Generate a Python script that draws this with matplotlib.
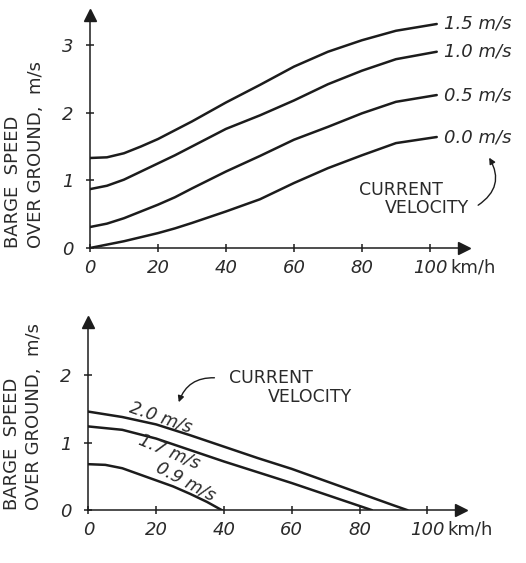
import numpy as np
import matplotlib
matplotlib.use("Agg")
import matplotlib.pyplot as plt

# following wind (top panel), km/h vs barge speed m/s
follow_x = [0, 5, 10, 15, 20, 25, 30, 40, 50, 60, 70, 80, 90, 102]
follow_curves = {
    "1.5 m/s": [1.33, 1.34, 1.40, 1.50, 1.61, 1.74, 1.87, 2.15, 2.41, 2.68, 2.90, 3.07, 3.21, 3.31],
    "1.0 m/s": [0.87, 0.92, 1.01, 1.13, 1.25, 1.37, 1.50, 1.76, 1.96, 2.18, 2.42, 2.62, 2.79, 2.90],
    "0.5 m/s": [0.31, 0.36, 0.44, 0.54, 0.64, 0.75, 0.88, 1.13, 1.36, 1.60, 1.79, 1.99, 2.16, 2.26],
    "0.0 m/s": [0.00, 0.05, 0.10, 0.16, 0.22, 0.29, 0.37, 0.54, 0.72, 0.96, 1.18, 1.37, 1.55, 1.64],
}

# head wind (bottom panel)
head_x_20 = [0, 10, 20, 30, 40, 50, 60, 70, 80, 90, 94]
head_y_20 = [1.46, 1.38, 1.27, 1.11, 0.94, 0.77, 0.61, 0.43, 0.25, 0.07, 0.0]
head_x_17 = [0, 10, 20, 30, 40, 50, 60, 70, 80, 83.5]
head_y_17 = [1.24, 1.19, 1.06, 0.89, 0.72, 0.56, 0.40, 0.23, 0.06, 0.0]
head_x_09 = [0, 5, 10, 15, 20, 25, 30, 35, 39.3]
head_y_09 = [0.68, 0.67, 0.62, 0.53, 0.44, 0.35, 0.24, 0.12, 0.0]

x_ticks = [0, 20, 40, 60, 80, 100]
ink = "#1c1c1c"
txt = "#2a2a2a"


def setup_axes(ax, ymax, yticks, unit_y):
    ax.set_xlim(0, 110)
    ax.set_ylim(0, ymax)
    for s in ["top", "right"]:
        ax.spines[s].set_visible(False)
    for s in ["left", "bottom"]:
        ax.spines[s].set_color(ink)
        ax.spines[s].set_linewidth(1.1)
    ax.set_xticks(x_ticks)
    ax.set_xticklabels([str(t) for t in x_ticks], fontsize=13, style="italic", color=txt)
    ax.set_yticks(yticks)
    ax.set_yticklabels([str(t) for t in yticks], fontsize=13, style="italic", color=txt)
    ax.tick_params(direction="inout", length=6, width=1.1, color=ink, pad=5)
    ax.tick_params(axis="y", pad=9)
    # arrow heads on axes
    ax.plot(1, 0, ">", color=ink, markersize=9, transform=ax.transAxes, clip_on=False)
    ax.plot(0, 1, "^", color=ink, markersize=9, transform=ax.transAxes, clip_on=False)
    ax.text(106, unit_y, "km/h", ha="left", va="center", fontsize=13, color=txt, clip_on=False)
    ax.text(-0.175, 0, "BARGE  SPEED\nOVER GROUND,  m/s", transform=ax.transAxes,
            rotation=90, ha="center", va="bottom", multialignment="left",
            fontsize=13, color=txt, linespacing=1.3)


fig = plt.figure(figsize=(5.26, 5.63), dpi=100)
fig.patch.set_facecolor("white")

# top panel
ax1 = fig.add_axes([0.171, 0.5595, 0.711, 0.4135])
setup_axes(ax1, 3.44, [0, 1, 2, 3], -0.29)
for name, ys in follow_curves.items():
    ax1.plot(follow_x, ys, color=ink, lw=1.8, solid_capstyle="round")
    ax1.text(104, ys[-1], name, ha="left", va="center", fontsize=13,
             style="italic", color=txt, clip_on=False)
ax1.text(91.5, 0.86, "CURRENT", ha="center", va="center", fontsize=12.5, color=txt)
ax1.text(99.1, 0.59, "VELOCITY", ha="center", va="center", fontsize=12.5, color=txt)
ax1.annotate("", xy=(117, 1.37), xytext=(113.5, 0.61), annotation_clip=False,
             arrowprops=dict(arrowstyle="-|>", color=ink, lw=1.0,
                             connectionstyle="arc3,rad=0.5", mutation_scale=9))
ax1.text(58.8, -0.146, "FOLLOWING  WIND  SPEED", transform=ax1.get_yaxis_transform(),
         ha="center", va="center", fontsize=13, color=txt)

# bottom panel
ax2 = fig.add_axes([0.168, 0.0941, 0.709, 0.334])
setup_axes(ax2, 2.79, [0, 1, 2], -0.29)
ax2.plot(head_x_20, head_y_20, color=ink, lw=1.8)
ax2.plot(head_x_17, head_y_17, color=ink, lw=1.8)
ax2.plot(head_x_09, head_y_09, color=ink, lw=1.8)
ax2.text(21.2, 1.38, "2.0 m/s", rotation=-19, ha="center", va="center",
         fontsize=12.5, style="italic", color=txt, rotation_mode="anchor")
ax2.text(23.9, 0.86, "1.7 m/s", rotation=-23, ha="center", va="center",
         fontsize=12.5, style="italic", color=txt, rotation_mode="anchor")
ax2.text(28.6, 0.42, "0.9 m/s", rotation=-28, ha="center", va="center",
         fontsize=12.5, style="italic", color=txt, rotation_mode="anchor")
ax2.text(53.8, 1.96, "CURRENT", ha="center", va="center", fontsize=12.5, color=txt)
ax2.text(65.3, 1.67, "VELOCITY", ha="center", va="center", fontsize=12.5, color=txt)
ax2.annotate("", xy=(26.4, 1.56), xytext=(38.0, 1.96), annotation_clip=False,
             arrowprops=dict(arrowstyle="-|>", color=ink, lw=1.0,
                             connectionstyle="arc3,rad=0.4", mutation_scale=9))
ax2.text(59.7, -0.223, "HEAD  WIND  SPEED", transform=ax2.get_yaxis_transform(),
         ha="center", va="center", fontsize=13, color=txt)

fig.savefig("out.png", dpi=100, facecolor="white")
